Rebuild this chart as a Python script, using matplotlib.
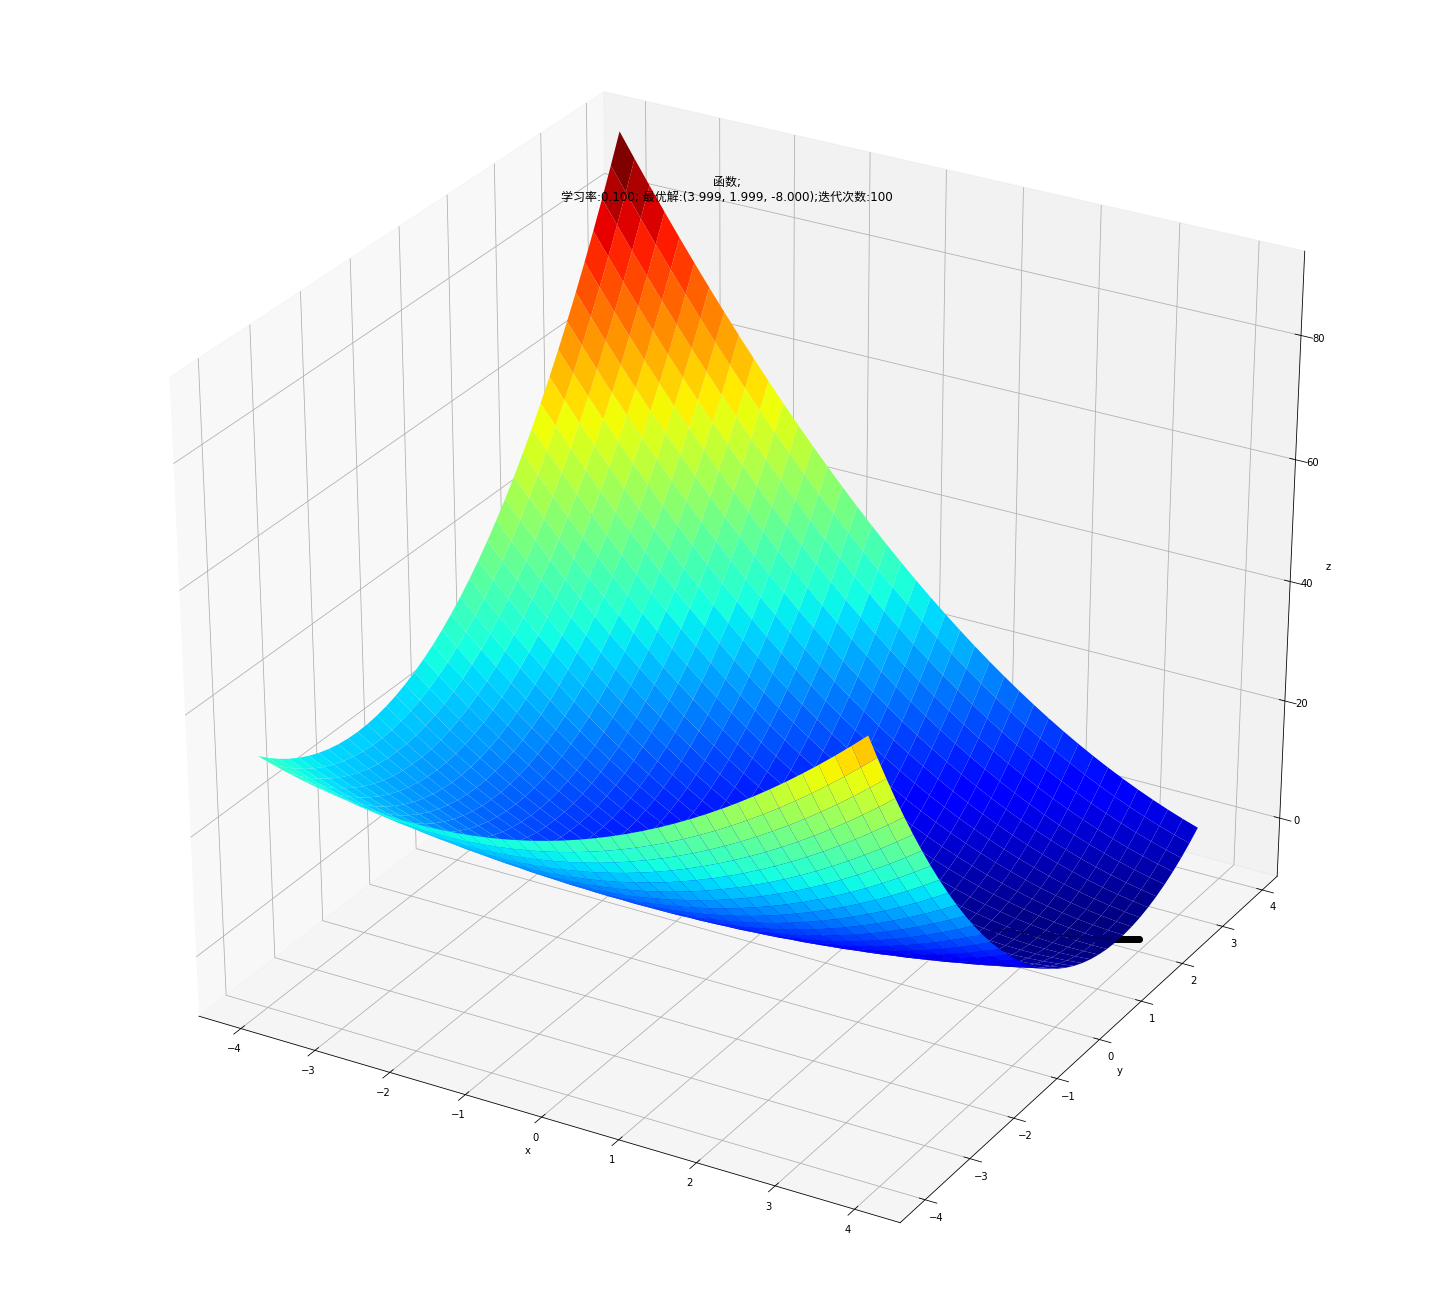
import matplotlib
matplotlib.use("Agg")
import matplotlib.pyplot as plt
import numpy as np

x_grid = [-4, -3.8, -3.6, -3.4, -3.2, -3, -2.8, -2.6, -2.4, -2.2, -2, -1.8, -1.6, -1.4, -1.2, -1, -0.8, -0.6, -0.4, -0.2,
          0, 0.2, 0.4, 0.6, 0.8, 1, 1.2, 1.4, 1.6, 1.8, 2, 2.2, 2.4, 2.6, 2.8, 3, 3.2, 3.4, 3.6, 3.8]
y_grid = list(x_grid)

# surface heights, one row per y value
z_rows = [
    [32,31.24,30.56,29.96,29.44,29,28.64,28.36,28.16,28.04,28,28.04,28.16,28.36,28.64,29,29.44,29.96,30.56,31.24,32,32.84,33.76,34.76,35.84,37,38.24,39.56,40.96,42.44,44,45.64,47.36,49.16,51.04,53,55.04,57.16,59.36,61.64],
    [30.48,29.64,28.88,28.2,27.6,27.08,26.64,26.28,26,25.8,25.68,25.64,25.68,25.8,26,26.28,26.64,27.08,27.6,28.2,28.88,29.64,30.48,31.4,32.4,33.48,34.64,35.88,37.2,38.6,40.08,41.64,43.28,45,46.8,48.68,50.64,52.68,54.8,57],
    [29.12,28.2,27.36,26.6,25.92,25.32,24.8,24.36,24,23.72,23.52,23.4,23.36,23.4,23.52,23.72,24,24.36,24.8,25.32,25.92,26.6,27.36,28.2,29.12,30.12,31.2,32.36,33.6,34.92,36.32,37.8,39.36,41,42.72,44.52,46.4,48.36,50.4,52.52],
    [27.92,26.92,26,25.16,24.4,23.72,23.12,22.6,22.16,21.8,21.52,21.32,21.2,21.16,21.2,21.32,21.52,21.8,22.16,22.6,23.12,23.72,24.4,25.16,26,26.92,27.92,29,30.16,31.4,32.72,34.12,35.6,37.16,38.8,40.52,42.32,44.2,46.16,48.2],
    [26.88,25.8,24.8,23.88,23.04,22.28,21.6,21,20.48,20.04,19.68,19.4,19.2,19.08,19.04,19.08,19.2,19.4,19.68,20.04,20.48,21,21.6,22.28,23.04,23.88,24.8,25.8,26.88,28.04,29.28,30.6,32,33.48,35.04,36.68,38.4,40.2,42.08,44.04],
    [26,24.84,23.76,22.76,21.84,21,20.24,19.56,18.96,18.44,18,17.64,17.36,17.16,17.04,17,17.04,17.16,17.36,17.64,18,18.44,18.96,19.56,20.24,21,21.84,22.76,23.76,24.84,26,27.24,28.56,29.96,31.44,33,34.64,36.36,38.16,40.04],
    [25.28,24.04,22.88,21.8,20.8,19.88,19.04,18.28,17.6,17,16.48,16.04,15.68,15.4,15.2,15.08,15.04,15.08,15.2,15.4,15.68,16.04,16.48,17,17.6,18.28,19.04,19.88,20.8,21.8,22.88,24.04,25.28,26.6,28,29.48,31.04,32.68,34.4,36.2],
    [24.72,23.4,22.16,21,19.92,18.92,18,17.16,16.4,15.72,15.12,14.6,14.16,13.8,13.52,13.32,13.2,13.16,13.2,13.32,13.52,13.8,14.16,14.6,15.12,15.72,16.4,17.16,18,18.92,19.92,21,22.16,23.4,24.72,26.12,27.6,29.16,30.8,32.52],
    [24.32,22.92,21.6,20.36,19.2,18.12,17.12,16.2,15.36,14.6,13.92,13.32,12.8,12.36,12,11.72,11.52,11.4,11.36,11.4,11.52,11.72,12,12.36,12.8,13.32,13.92,14.6,15.36,16.2,17.12,18.12,19.2,20.36,21.6,22.92,24.32,25.8,27.36,29],
    [24.08,22.6,21.2,19.88,18.64,17.48,16.4,15.4,14.48,13.64,12.88,12.2,11.6,11.08,10.64,10.28,10,9.8,9.68,9.64,9.68,9.8,10,10.28,10.64,11.08,11.6,12.2,12.88,13.64,14.48,15.4,16.4,17.48,18.64,19.88,21.2,22.6,24.08,25.64],
    [24,22.44,20.96,19.56,18.24,17,15.84,14.76,13.76,12.84,12,11.24,10.56,9.96,9.44,9,8.64,8.36,8.16,8.04,8,8.04,8.16,8.36,8.64,9,9.44,9.96,10.56,11.24,12,12.84,13.76,14.76,15.84,17,18.24,19.56,20.96,22.44],
    [24.08,22.44,20.88,19.4,18,16.68,15.44,14.28,13.2,12.2,11.28,10.44,9.68,9,8.4,7.88,7.44,7.08,6.8,6.6,6.48,6.44,6.48,6.6,6.8,7.08,7.44,7.88,8.4,9,9.68,10.44,11.28,12.2,13.2,14.28,15.44,16.68,18,19.4],
    [24.32,22.6,20.96,19.4,17.92,16.52,15.2,13.96,12.8,11.72,10.72,9.8,8.96,8.2,7.52,6.92,6.4,5.96,5.6,5.32,5.12,5,4.96,5,5.12,5.32,5.6,5.96,6.4,6.92,7.52,8.2,8.96,9.8,10.72,11.72,12.8,13.96,15.2,16.52],
    [24.72,22.92,21.2,19.56,18,16.52,15.12,13.8,12.56,11.4,10.32,9.32,8.4,7.56,6.8,6.12,5.52,5,4.56,4.2,3.92,3.72,3.6,3.56,3.6,3.72,3.92,4.2,4.56,5,5.52,6.12,6.8,7.56,8.4,9.32,10.32,11.4,12.56,13.8],
    [25.28,23.4,21.6,19.88,18.24,16.68,15.2,13.8,12.48,11.24,10.08,9,8,7.08,6.24,5.48,4.8,4.2,3.68,3.24,2.88,2.6,2.4,2.28,2.24,2.28,2.4,2.6,2.88,3.24,3.68,4.2,4.8,5.48,6.24,7.08,8,9,10.08,11.24],
    [26,24.04,22.16,20.36,18.64,17,15.44,13.96,12.56,11.24,10,8.84,7.76,6.76,5.84,5,4.24,3.56,2.96,2.44,2,1.64,1.36,1.16,1.04,1,1.04,1.16,1.36,1.64,2,2.44,2.96,3.56,4.24,5,5.84,6.76,7.76,8.84],
    [26.88,24.84,22.88,21,19.2,17.48,15.84,14.28,12.8,11.4,10.08,8.84,7.68,6.6,5.6,4.68,3.84,3.08,2.4,1.8,1.28,.84,.48,.2,0,-.12,-.16,-.12,0,.2,.48,.84,1.28,1.8,2.4,3.08,3.84,4.68,5.6,6.6],
    [27.92,25.8,23.76,21.8,19.92,18.12,16.4,14.76,13.2,11.72,10.32,9,7.76,6.6,5.52,4.52,3.6,2.76,2,1.32,.72,.2,-.24,-.6,-.88,-1.08,-1.2,-1.24,-1.2,-1.08,-.88,-.6,-.24,.2,.72,1.32,2,2.76,3.6,4.52],
    [29.12,26.92,24.8,22.76,20.8,18.92,17.12,15.4,13.76,12.2,10.72,9.32,8,6.76,5.6,4.52,3.52,2.6,1.76,1,.32,-.28,-.8,-1.24,-1.6,-1.88,-2.08,-2.2,-2.24,-2.2,-2.08,-1.88,-1.6,-1.24,-.8,-.28,.32,1,1.76,2.6],
    [30.48,28.2,26,23.88,21.84,19.88,18,16.2,14.48,12.84,11.28,9.8,8.4,7.08,5.84,4.68,3.6,2.6,1.68,.84,.08,-.6,-1.2,-1.72,-2.16,-2.52,-2.8,-3,-3.12,-3.16,-3.12,-3,-2.8,-2.52,-2.16,-1.72,-1.2,-.6,.08,.84],
    [32,29.64,27.36,25.16,23.04,21,19.04,17.16,15.36,13.64,12,10.44,8.96,7.56,6.24,5,3.84,2.76,1.76,.84,0,-.76,-1.44,-2.04,-2.56,-3,-3.36,-3.64,-3.84,-3.96,-4,-3.96,-3.84,-3.64,-3.36,-3,-2.56,-2.04,-1.44,-.76],
    [33.68,31.24,28.88,26.6,24.4,22.28,20.24,18.28,16.4,14.6,12.88,11.24,9.68,8.2,6.8,5.48,4.24,3.08,2,1,.08,-.76,-1.52,-2.2,-2.8,-3.32,-3.76,-4.12,-4.4,-4.6,-4.72,-4.76,-4.72,-4.6,-4.4,-4.12,-3.76,-3.32,-2.8,-2.2],
    [35.52,33,30.56,28.2,25.92,23.72,21.6,19.56,17.6,15.72,13.92,12.2,10.56,9,7.52,6.12,4.8,3.56,2.4,1.32,.32,-.6,-1.44,-2.2,-2.88,-3.48,-4,-4.44,-4.8,-5.08,-5.28,-5.4,-5.44,-5.4,-5.28,-5.08,-4.8,-4.44,-4,-3.48],
    [37.52,34.92,32.4,29.96,27.6,25.32,23.12,21,18.96,17,15.12,13.32,11.6,9.96,8.4,6.92,5.52,4.2,2.96,1.8,.72,-.28,-1.2,-2.04,-2.8,-3.48,-4.08,-4.6,-5.04,-5.4,-5.68,-5.88,-6,-6.04,-6,-5.88,-5.68,-5.4,-5.04,-4.6],
    [39.68,37,34.4,31.88,29.44,27.08,24.8,22.6,20.48,18.44,16.48,14.6,12.8,11.08,9.44,7.88,6.4,5,3.68,2.44,1.28,.2,-.8,-1.72,-2.56,-3.32,-4,-4.6,-5.12,-5.56,-5.92,-6.2,-6.4,-6.52,-6.56,-6.52,-6.4,-6.2,-5.92,-5.56],
    [42,39.24,36.56,33.96,31.44,29,26.64,24.36,22.16,20.04,18,16.04,14.16,12.36,10.64,9,7.44,5.96,4.56,3.24,2,.84,-.24,-1.24,-2.16,-3,-3.76,-4.44,-5.04,-5.56,-6,-6.36,-6.64,-6.84,-6.96,-7,-6.96,-6.84,-6.64,-6.36],
    [44.48,41.64,38.88,36.2,33.6,31.08,28.64,26.28,24,21.8,19.68,17.64,15.68,13.8,12,10.28,8.64,7.08,5.6,4.2,2.88,1.64,.48,-.6,-1.6,-2.52,-3.36,-4.12,-4.8,-5.4,-5.92,-6.36,-6.72,-7,-7.2,-7.32,-7.36,-7.32,-7.2,-7],
    [47.12,44.2,41.36,38.6,35.92,33.32,30.8,28.36,26,23.72,21.52,19.4,17.36,15.4,13.52,11.72,10,8.36,6.8,5.32,3.92,2.6,1.36,.2,-.88,-1.88,-2.8,-3.64,-4.4,-5.08,-5.68,-6.2,-6.64,-7,-7.28,-7.48,-7.6,-7.64,-7.6,-7.48],
    [49.92,46.92,44,41.16,38.4,35.72,33.12,30.6,28.16,25.8,23.52,21.32,19.2,17.16,15.2,13.32,11.52,9.8,8.16,6.6,5.12,3.72,2.4,1.16,0,-1.08,-2.08,-3,-3.84,-4.6,-5.28,-5.88,-6.4,-6.84,-7.2,-7.48,-7.68,-7.8,-7.84,-7.8],
    [52.88,49.8,46.8,43.88,41.04,38.28,35.6,33,30.48,28.04,25.68,23.4,21.2,19.08,17.04,15.08,13.2,11.4,9.68,8.04,6.48,5,3.6,2.28,1.04,-.12,-1.2,-2.2,-3.12,-3.96,-4.72,-5.4,-6,-6.52,-6.96,-7.32,-7.6,-7.8,-7.92,-7.96],
    [56,52.84,49.76,46.76,43.84,41,38.24,35.56,32.96,30.44,28,25.64,23.36,21.16,19.04,17,15.04,13.16,11.36,9.64,8,6.44,4.96,3.56,2.24,1,-.16,-1.24,-2.24,-3.16,-4,-4.76,-5.44,-6.04,-6.56,-7,-7.36,-7.64,-7.84,-7.96],
    [59.28,56.04,52.88,49.8,46.8,43.88,41.04,38.28,35.6,33,30.48,28.04,25.68,23.4,21.2,19.08,17.04,15.08,13.2,11.4,9.68,8.04,6.48,5,3.6,2.28,1.04,-.12,-1.2,-2.2,-3.12,-3.96,-4.72,-5.4,-6,-6.52,-6.96,-7.32,-7.6,-7.8],
    [62.72,59.4,56.16,53,49.92,46.92,44,41.16,38.4,35.72,33.12,30.6,28.16,25.8,23.52,21.32,19.2,17.16,15.2,13.32,11.52,9.8,8.16,6.6,5.12,3.72,2.4,1.16,0,-1.08,-2.08,-3,-3.84,-4.6,-5.28,-5.88,-6.4,-6.84,-7.2,-7.48],
    [66.32,62.92,59.6,56.36,53.2,50.12,47.12,44.2,41.36,38.6,35.92,33.32,30.8,28.36,26,23.72,21.52,19.4,17.36,15.4,13.52,11.72,10,8.36,6.8,5.32,3.92,2.6,1.36,.2,-.88,-1.88,-2.8,-3.64,-4.4,-5.08,-5.68,-6.2,-6.64,-7],
    [70.08,66.6,63.2,59.88,56.64,53.48,50.4,47.4,44.48,41.64,38.88,36.2,33.6,31.08,28.64,26.28,24,21.8,19.68,17.64,15.68,13.8,12,10.28,8.64,7.08,5.6,4.2,2.88,1.64,.48,-.6,-1.6,-2.52,-3.36,-4.12,-4.8,-5.4,-5.92,-6.36],
    [74,70.44,66.96,63.56,60.24,57,53.84,50.76,47.76,44.84,42,39.24,36.56,33.96,31.44,29,26.64,24.36,22.16,20.04,18,16.04,14.16,12.36,10.64,9,7.44,5.96,4.56,3.24,2,.84,-.24,-1.24,-2.16,-3,-3.76,-4.44,-5.04,-5.56],
    [78.08,74.44,70.88,67.4,64,60.68,57.44,54.28,51.2,48.2,45.28,42.44,39.68,37,34.4,31.88,29.44,27.08,24.8,22.6,20.48,18.44,16.48,14.6,12.8,11.08,9.44,7.88,6.4,5,3.68,2.44,1.28,.2,-.8,-1.72,-2.56,-3.32,-4,-4.6],
    [82.32,78.6,74.96,71.4,67.92,64.52,61.2,57.96,54.8,51.72,48.72,45.8,42.96,40.2,37.52,34.92,32.4,29.96,27.6,25.32,23.12,21,18.96,17,15.12,13.32,11.6,9.96,8.4,6.92,5.52,4.2,2.96,1.8,.72,-.28,-1.2,-2.04,-2.8,-3.48],
    [86.72,82.92,79.2,75.56,72,68.52,65.12,61.8,58.56,55.4,52.32,49.32,46.4,43.56,40.8,38.12,35.52,33,30.56,28.2,25.92,23.72,21.6,19.56,17.6,15.72,13.92,12.2,10.56,9,7.52,6.12,4.8,3.56,2.4,1.32,.32,-.6,-1.44,-2.2],
    [91.28,87.4,83.6,79.88,76.24,72.68,69.2,65.8,62.48,59.24,56.08,53,50,47.08,44.24,41.48,38.8,36.2,33.68,31.24,28.88,26.6,24.4,22.28,20.24,18.28,16.4,14.6,12.88,11.24,9.68,8.2,6.8,5.48,4.24,3.08,2,1,.08,-.76],
]

# descent path, ends at the optimum
px = [2.5, 2.7, 2.9, 3.1, 3.3, 3.45, 3.55, 3.62, 3.68, 3.72, 3.74, 3.76, 3.78, 3.8, 3.82, 3.84, 3.86, 3.88, 3.9, 3.92, 3.94, 3.96, 3.98, 3.999]
py = [1.25, 1.35, 1.45, 1.55, 1.65, 1.725, 1.775, 1.81, 1.84, 1.86, 1.87, 1.88, 1.89, 1.9, 1.91, 1.92, 1.93, 1.94, 1.95, 1.96, 1.97, 1.98, 1.99, 1.999]
pz = [-6.88, -7.16, -7.4, -7.6, -7.76, -7.85, -7.9, -7.93, -7.95, -7.97, -7.97, -7.97, -7.98, -7.98, -7.98, -7.99, -7.99, -7.99, -8, -8, -8, -8, -8, -8]

title = "函数;\n学习率:0.100; 最优解:(3.999, 1.999, -8.000);迭代次数:100"

fig = plt.figure(figsize=(1454/72, 1310/72), dpi=72)
ax = fig.add_axes([0, 0, 1, 1], projection="3d")
ax.apply_aspect = lambda position=None: None
ax.set_box_aspect((1, 1, 1), zoom=0.936)
ax.computed_zorder = False

X, Y = np.meshgrid(x_grid, y_grid)
Z = np.array(z_rows)
ax.plot(px, py, pz, "ko-", zorder=1)
ax.plot_surface(X, Y, Z, rstride=1, cstride=1, cmap="jet", zorder=2)
ax.plot(px, py, pz, color="black", lw=1, alpha=0.3, zorder=3)
ax.set_xlim(-4.57, 4.57)
ax.set_ylim(-4.55, 4.38)
ax.set_zlim(-10.07, 93.35)
ax.set_xlabel("x")
ax.set_ylabel("y")
ax.set_zlabel("z")
ax.set_title(title, y=0.9149, fontsize=12, family=["DejaVu Sans", "Noto Sans CJK SC"])
fig.savefig("out.png", dpi=72)
